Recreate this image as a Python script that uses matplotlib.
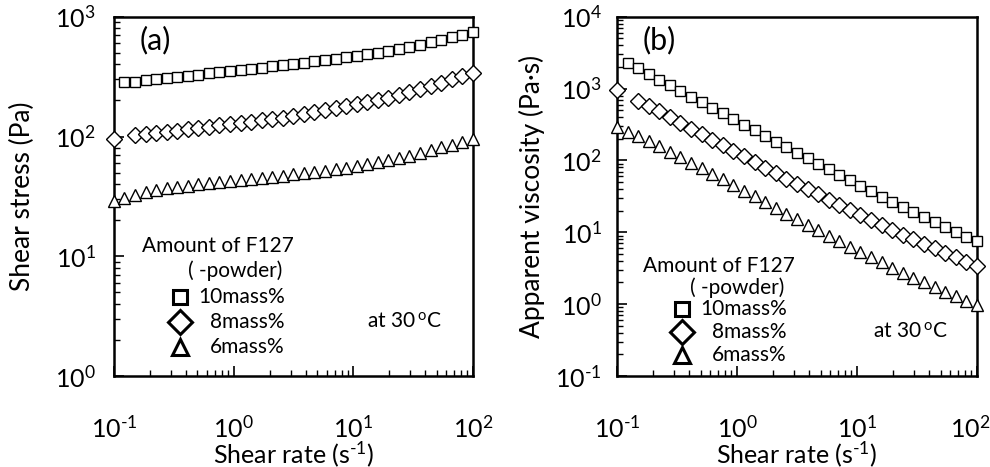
import matplotlib
matplotlib.use('Agg')
import matplotlib.pyplot as plt
from matplotlib.ticker import LogLocator, NullFormatter, FixedLocator
from matplotlib.transforms import ScaledTranslation

plt.rcParams['font.family'] = ['Lato', 'DejaVu Sans']
plt.rcParams['mathtext.fontset'] = 'custom'
plt.rcParams['mathtext.rm'] = 'Lato'
plt.rcParams['mathtext.it'] = 'Lato:italic'

# shear rate grid (s^-1), as logged by the rheometer
shear_rate = [0.1, 0.1225, 0.1501, 0.1839, 0.2253, 0.2762, 0.3383, 0.4146, 0.5080,
              0.6223, 0.7627, 0.9346, 1.145, 1.403, 1.719, 2.106, 2.581, 3.162,
              3.875, 4.748, 5.818, 7.129, 8.733, 10.70, 13.11, 16.07, 19.69,
              24.12, 29.56, 36.22, 44.38, 54.38, 66.63, 81.64, 100.0]

# (a) shear stress (Pa)
rate_10 = shear_rate[1:]
stress_10 = [283, 288, 295, 301, 308, 315, 322, 329, 337, 344, 352, 359, 367, 376,
             385, 394, 404, 414, 425, 436, 448, 460, 473, 488, 502, 520, 540, 561,
             585, 611, 640, 673, 708, 745]
rate_8 = shear_rate[:1] + shear_rate[2:]
stress_8 = [95.5, 102, 104.5, 107, 110, 112, 115, 118, 121, 124, 127, 130, 133, 137,
            140, 144, 149, 154, 160, 166, 172, 179, 186, 194, 202, 210, 221, 235,
            250, 265, 282, 300, 318, 338]
rate_6 = shear_rate
stress_6 = [28.8, 30.9, 32.7, 34.3, 35.6, 36.8, 37.8, 38.8, 39.8, 40.7, 41.6, 42.5,
            43.4, 44.3, 45.2, 46.1, 47.1, 48.2, 49.4, 50.7, 52.0, 53.5, 55.0, 56.8,
            58.7, 61.0, 63.4, 66.1, 69.2, 72.8, 76.7, 81.1, 85.7, 90.8, 96.2]

# (b) apparent viscosity (Pa s)
visc_10 = [2310, 1919, 1604, 1336, 1115, 931, 777, 648, 542, 451, 377, 314, 262, 219,
           183, 153, 128, 107, 89.5, 74.9, 62.8, 52.7, 44.2, 37.2, 31.2, 26.4, 22.4,
           19.0, 16.2, 13.8, 11.8, 10.1, 8.67, 7.45]
visc_8 = [955, 680, 568, 484, 398, 331, 277, 232, 195, 163, 136, 114, 95.0, 79.7,
          66.5, 55.8, 47.1, 39.7, 33.7, 28.5, 24.1, 20.5, 17.4, 14.8, 12.6, 10.7,
          9.16, 7.95, 6.90, 5.97, 5.19, 4.50, 3.90, 3.38]
visc_6 = [288, 252, 218, 187, 158, 133, 112, 93.6, 78.3, 65.4, 54.5, 45.5, 37.9, 31.6,
          26.3, 21.9, 18.2, 15.2, 12.7, 10.7, 8.94, 7.50, 6.30, 5.31, 4.48, 3.80,
          3.22, 2.74, 2.34, 2.01, 1.73, 1.49, 1.29, 1.11, 0.962]

labels = ['10mass%', '8mass%', '6mass%']
markers = ['s', 'D', '^']
sizes = [7, 8.3, 8]
leg_sizes = [10, 12, 11]

xtick_labels = ['10$^{\\text{-1}}$', '10$^{0}$', '10$^{1}$', '10$^{2}$']

fig = plt.figure(figsize=(9.9, 4.67), dpi=100)
ax1 = fig.add_axes([0.115, 0.195, 0.3626, 0.769])
ax2 = fig.add_axes([0.6232, 0.195, 0.3636, 0.769])

series_a = [(rate_10, stress_10), (rate_8, stress_8), (rate_6, stress_6)]
series_b = [(rate_10, visc_10), (rate_8, visc_8), (rate_6, visc_6)]

# legend block positions (axes fractions) for each panel
leg_a = dict(title_y=0.362, sub_y=0.292, rows=[0.220, 0.150, 0.081],
             title_x=0.078, sub_x=0.206, mk_x=0.184, txt_x=0.476, at_x=0.705)
leg_b = dict(title_y=0.306, sub_y=0.245, rows=[0.187, 0.123, 0.058],
             title_x=0.072, sub_x=0.203, mk_x=0.181, txt_x=0.472, at_x=0.711)

for ax, series, lg in [(ax1, series_a, leg_a), (ax2, series_b, leg_b)]:
    for (x, y), m, ms in zip(series, markers, sizes):
        ax.plot(x, y, linestyle='none', marker=m, ms=ms, mfc='white', mec='black',
                mew=1.0, clip_on=False, zorder=3)
    ax.set_xscale('log')
    ax.set_yscale('log')
    ax.set_xlim(0.1, 100)
    for s in ax.spines.values():
        s.set_linewidth(1.8)
    ax.xaxis.set_major_locator(FixedLocator([0.1, 1, 10, 100]))
    ax.xaxis.set_minor_locator(LogLocator(base=10, subs=range(2, 10)))
    ax.yaxis.set_minor_locator(LogLocator(base=10, subs=range(2, 10)))
    ax.xaxis.set_minor_formatter(NullFormatter())
    ax.yaxis.set_minor_formatter(NullFormatter())
    ax.tick_params(which='both', direction='in', top=False, right=False, labelsize=18)
    ax.tick_params(which='major', length=7, width=1.2)
    ax.tick_params(which='minor', length=4, width=1.0)
    ax.tick_params(axis='x', pad=28)
    ax.set_xticks([0.1, 1, 10, 100])
    ax.set_xticklabels(xtick_labels)
    ax.set_xlabel('Shear rate (s$^{\\text{-1}}$)', fontsize=18)
    ax.xaxis.set_label_coords(0.5, -0.175)

    # legend drawn by hand to keep the original layout
    ax.text(lg['title_x'], lg['title_y'], 'Amount of F127', transform=ax.transAxes,
            fontsize=15, va='center', ha='left')
    ax.text(lg['sub_x'], lg['sub_y'], '( -powder)', transform=ax.transAxes,
            fontsize=15, va='center', ha='left')
    for m, ms, lab, ry in zip(markers, leg_sizes, labels, lg['rows']):
        ax.plot([lg['mk_x']], [ry], transform=ax.transAxes, linestyle='none',
                marker=m, ms=ms, mfc='white', mec='black', mew=2.2, clip_on=False)
        ax.text(lg['txt_x'], ry, lab, transform=ax.transAxes, fontsize=15,
                va='center', ha='right')
    ax.text(lg['at_x'], lg['rows'][1], 'at 30$\\,^{\\mathrm{o}}$C',
            transform=ax.transAxes, fontsize=15, va='center')

ax1.set_ylim(1, 1000)
ax1.set_yticks([1, 10, 100, 1000])
ax1.set_yticklabels(['10$^{0}$', '10$^{1}$', '10$^{2}$', '10$^{3}$'])
ax1.tick_params(axis='y', pad=13)
ax1.set_ylabel('Shear stress (Pa)', fontsize=19)
ax1.yaxis.set_label_coords(-0.22, 0.5)
ax1.text(0.072, 0.936, '(a)', transform=ax1.transAxes, fontsize=22, va='center')

ax2.set_ylim(0.1, 10000)
ax2.set_yticks([0.1, 1, 10, 100, 1000, 10000])
ax2.set_yticklabels(['10$^{\\text{-1}}$', '10$^{0}$', '10$^{1}$', '10$^{2}$',
                     '10$^{3}$', '10$^{4}$'])
ax2.tick_params(axis='y', pad=11)
ax2.set_ylabel('Apparent viscosity (Pa\u00b7s)', fontsize=19)
ax2.yaxis.set_label_coords(-0.2, 0.5)
ax2.text(0.072, 0.936, '(b)', transform=ax2.transAxes, fontsize=22, va='center')

# keep the right-most tick label of (b) inside the canvas
last = ax2.get_xticklabels()[-1]
last.set_transform(last.get_transform() + ScaledTranslation(-5 / 72, 0, fig.dpi_scale_trans))

fig.savefig('out.png', dpi=100)
